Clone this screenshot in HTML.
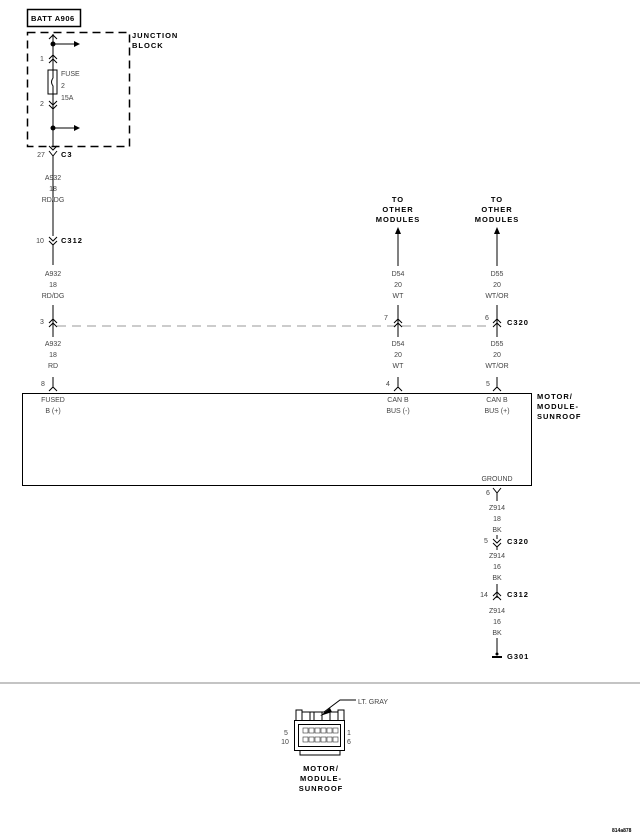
<!DOCTYPE html>
<html><head><meta charset="utf-8"><style>
html,body{margin:0;padding:0;background:#fff;}
svg{display:block;}
text{font-family:"Liberation Sans",sans-serif;}
.t{font-size:7px;fill:#444;text-anchor:middle;}
.b{font-size:7.5px;font-weight:bold;fill:#000;letter-spacing:1px;}
</style></head><body>
<svg width="640" height="838" viewBox="0 0 640 838" xmlns="http://www.w3.org/2000/svg">
<g stroke="#000" fill="none" stroke-width="1">
<rect x="27.5" y="9.5" width="53" height="17" stroke-width="1.5"/>
<rect x="27.5" y="32.5" width="102" height="114" stroke-dasharray="8,5" stroke-width="1.5"/>
<!-- left wire -->
<line x1="53" y1="34" x2="53" y2="70"/>
<rect x="48" y="70" width="9" height="24"/>
<path d="M53 70 v8 q-3 4 0 8 v8"/>
<line x1="53" y1="94" x2="53" y2="146"/>
<path d="M49 39 l4 -4 4 4 M49 59 l4 -4 4 4 M49 63 l4 -4 4 4 M49 101 l4 4 4 -4 M49 105 l4 4 4 -4 M49 146 l4 4 4 -4"/>
<line x1="53" y1="44" x2="74" y2="44"/><line x1="53" y1="128" x2="74" y2="128"/>
<path d="M49 151 l4 5 4 -5 M53 156 v80"/>
<path d="M49 237 l4 4 4 -4 M49 241 l4 4 4 -4 M53 245 v20"/>
<path d="M53 305 v14 M49 323 l4 -4 4 4 M49 327 l4 -4 4 4 M53 319 v18"/>
<path d="M53 377 v10 M49 391 l4 -4 4 4"/>
<line x1="57" y1="326" x2="490" y2="326" stroke="#999" stroke-dasharray="9,6"/>
<!-- middle -->
<path d="M398 234 v32 M398 305 v14 M394 323 l4 -4 4 4 M394 327 l4 -4 4 4 M398 319 v18 M398 377 v10 M394 391 l4 -4 4 4"/>
<path d="M497 234 v32 M497 305 v14 M493 323 l4 -4 4 4 M493 327 l4 -4 4 4 M497 319 v18 M497 377 v10 M493 391 l4 -4 4 4"/>
<rect x="22.5" y="393.5" width="509" height="92"/>
<!-- ground -->
<path d="M493 488 l4 5 4 -5 M497 493 v8 M497 535 v4 M493 539 l4 4 4 -4 M493 543 l4 4 4 -4 M497 547 v3 M497 584 v4 M493 596 l4 -4 4 4 M493 600 l4 -4 4 4 M497 588 v10 M497 638 v16"/>
<line x1="0" y1="683" x2="640" y2="683" stroke="#888"/>
<!-- connector -->
<rect x="294.5" y="720.5" width="50" height="30"/>
<rect x="298.5" y="724.5" width="42" height="22"/>
<path d="M296 720 v-10 h6 v10 M338 720 v-10 h6 v10 M302 712 h36 M310 712 v8 M314 712 v8 M322 712 v8 M330 712 v8 M300 750 v5 h40 v-5"/>
<path d="M324 712 l16 -12 h16"/>
</g>
<g fill="#000">
<circle cx="53" cy="44" r="2.5"/><circle cx="53" cy="128" r="2.5"/>
<path d="M74 41 l6 3 -6 3z M74 125 l6 3 -6 3z"/>
<path d="M395 234 l3 -7 3 7z M494 234 l3 -7 3 7z"/>
<path d="M320 716 l10 -8 2 4z"/>
<rect x="492" y="656" width="10" height="2"/>
<circle cx="497" cy="654" r="1.5"/>
</g>
<g fill="#fff" stroke="#333" stroke-width="0.6">
<rect x="303" y="728" width="5" height="5"/><rect x="309" y="728" width="5" height="5"/><rect x="315" y="728" width="5" height="5"/><rect x="321" y="728" width="5" height="5"/><rect x="327" y="728" width="5" height="5"/><rect x="333" y="728" width="5" height="5"/>
<rect x="303" y="737" width="5" height="5"/><rect x="309" y="737" width="5" height="5"/><rect x="315" y="737" width="5" height="5"/><rect x="321" y="737" width="5" height="5"/><rect x="327" y="737" width="5" height="5"/><rect x="333" y="737" width="5" height="5"/>
</g>
<text class="b" x="31" y="21" style="letter-spacing:0.5px">BATT A906</text>
<text class="b" x="132" y="38">JUNCTION</text><text class="b" x="132" y="48">BLOCK</text>
<text class="t" x="42" y="61">1</text><text class="t" x="42" y="106">2</text>
<text class="t" x="61" y="76" style="text-anchor:start">FUSE</text>
<text class="t" x="61" y="88" style="text-anchor:start">2</text>
<text class="t" x="61" y="100" style="text-anchor:start">15A</text>
<text class="t" x="41" y="157">27</text><text class="b" x="61" y="157">C3</text>
<text class="t" x="53" y="180">A932</text><text class="t" x="53" y="191">18</text><text class="t" x="53" y="202">RD/DG</text>
<text class="t" x="40" y="243">10</text><text class="b" x="61" y="243">C312</text>
<text class="t" x="53" y="276">A932</text><text class="t" x="53" y="287">18</text><text class="t" x="53" y="298">RD/DG</text>
<text class="t" x="42" y="324">3</text>
<text class="t" x="53" y="346">A932</text><text class="t" x="53" y="357">18</text><text class="t" x="53" y="368">RD</text>
<text class="t" x="43" y="386">8</text>
<text class="b" x="398" y="202" text-anchor="middle">TO</text><text class="b" x="398" y="212" text-anchor="middle">OTHER</text><text class="b" x="398" y="222" text-anchor="middle">MODULES</text>
<text class="b" x="497" y="202" text-anchor="middle">TO</text><text class="b" x="497" y="212" text-anchor="middle">OTHER</text><text class="b" x="497" y="222" text-anchor="middle">MODULES</text>
<text class="t" x="398" y="276">D54</text><text class="t" x="398" y="287">20</text><text class="t" x="398" y="298">WT</text>
<text class="t" x="497" y="276">D55</text><text class="t" x="497" y="287">20</text><text class="t" x="497" y="298">WT/OR</text>
<text class="t" x="386" y="320">7</text><text class="t" x="487" y="320">6</text><text class="b" x="507" y="325">C320</text>
<text class="t" x="398" y="346">D54</text><text class="t" x="398" y="357">20</text><text class="t" x="398" y="368">WT</text>
<text class="t" x="497" y="346">D55</text><text class="t" x="497" y="357">20</text><text class="t" x="497" y="368">WT/OR</text>
<text class="t" x="388" y="386">4</text><text class="t" x="488" y="386">5</text>
<text class="b" x="537" y="399">MOTOR/</text><text class="b" x="537" y="409">MODULE-</text><text class="b" x="537" y="419">SUNROOF</text>
<text class="t" x="53" y="402">FUSED</text><text class="t" x="53" y="413">B (+)</text>
<text class="t" x="398" y="402">CAN B</text><text class="t" x="398" y="413">BUS (-)</text>
<text class="t" x="497" y="402">CAN B</text><text class="t" x="497" y="413">BUS (+)</text>
<text class="t" x="497" y="481">GROUND</text>
<text class="t" x="488" y="495">6</text>
<text class="t" x="497" y="510">Z914</text><text class="t" x="497" y="521">18</text><text class="t" x="497" y="532">BK</text>
<text class="t" x="486" y="543">5</text><text class="b" x="507" y="544">C320</text>
<text class="t" x="497" y="558">Z914</text><text class="t" x="497" y="569">16</text><text class="t" x="497" y="580">BK</text>
<text class="t" x="484" y="597">14</text><text class="b" x="507" y="597">C312</text>
<text class="t" x="497" y="613">Z914</text><text class="t" x="497" y="624">16</text><text class="t" x="497" y="635">BK</text>
<text class="b" x="507" y="659">G301</text>
<text class="t" x="358" y="704" style="text-anchor:start">LT. GRAY</text>
<text class="t" x="286" y="735">5</text><text class="t" x="285" y="744">10</text>
<text class="t" x="349" y="735">1</text><text class="t" x="349" y="744">6</text>
<text class="b" x="321" y="771" text-anchor="middle">MOTOR/</text><text class="b" x="321" y="781" text-anchor="middle">MODULE-</text><text class="b" x="321" y="791" text-anchor="middle">SUNROOF</text>
<text x="612" y="832" style="font-size:5px;font-weight:bold">814a878</text>
</svg>
</body></html>
